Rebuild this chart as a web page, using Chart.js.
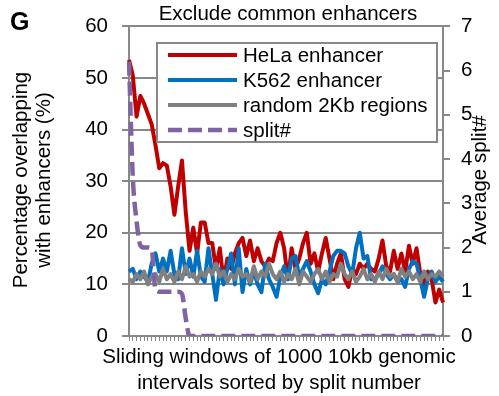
<!DOCTYPE html>
<html>
<head>
<meta charset="utf-8">
<script src="https://cdn.jsdelivr.net/npm/chart.js@4"></script>
<style>
  html, body { margin: 0; padding: 0; background: #fff; }
  canvas { display: block; }
</style>
</head>
<body>
<canvas id="myChart" width="499" height="396"></canvas>
<script>
// --- Data ---
const helaEnhancer = [
  53.5, 50.5, 42.5, 46.5, 45, 43, 41, 37, 32.5, 33.5, 33, 29,
  23.5, 29, 34, 24, 16.5, 21, 16, 22, 22, 18, 18, 13,
  17, 10.5, 15, 13, 16, 18, 19, 15.5, 18.5, 14.5, 17, 14.5,
  13.5, 15, 14.5, 18, 20, 17, 11, 17, 13, 15, 18, 20,
  14, 16, 12.5, 16, 19, 15, 11, 14, 16, 11, 9.5, 13,
  12, 14, 13, 14, 13, 12.5, 15, 18.5, 13.5, 12.5, 16.5, 13,
  16, 12.5, 17.5, 14, 17, 12, 9.5, 12.5, 11, 6.5, 9, 6.5
];
const k562Enhancer = [
  12.5, 13, 11, 12.5, 11.5, 10.5, 14, 16, 12.5, 15, 12.5, 16.5,
  12, 11, 17, 12, 15, 11.5, 16.5, 11.5, 10.5, 17, 12, 7,
  13, 10, 13, 16, 10, 17, 8.5, 13, 10, 12.5, 10, 8.5,
  14, 11, 9.5, 7.6, 11.5, 13.5, 11, 15, 15.5, 11.5, 13, 14.5,
  12.5, 10, 8.3, 11, 10, 12.5, 15.5, 16.5, 16.5, 16, 13.5, 12,
  17, 20, 15, 15.5, 11, 11, 12, 13.5, 12, 11, 12, 10.5,
  11, 9.5, 13, 14.5, 14, 11, 7.6, 11, 12.5, 10.5, 11.5, 10.5
];
const randomRegions = [
  11, 10.5, 12, 11, 12.5, 10, 11.5, 12, 10.5, 13, 11, 12,
  10.5, 12.5, 11, 13.5, 11.5, 12, 10.5, 12.5, 11.5, 13, 12, 14,
  11.5, 12.5, 10.5, 12, 11, 13, 11.5, 12, 10.5, 13.5, 11, 12.5,
  11.5, 14, 12, 11, 12.5, 10.5, 12, 11, 13, 10, 12.5, 11.5,
  10.5, 12, 13, 11, 12.5, 10.5, 12, 11.5, 14, 12, 11, 12.5,
  10.5, 11.5, 13, 11, 12, 10.5, 12.5, 11, 13, 11.5, 12, 10.5,
  13, 11.5, 12.5, 11, 12, 10.5, 12.5, 11, 12, 11.5, 12.5, 11.5
];
const splitNumber = [
  6.2, 3.6, 2.6, 2.05, 2, 2, 1.95, 1.05, 1, 1, 1, 1,
  1, 1, 0.95, 0.4, 0, 0, 0, 0, 0, 0, 0, 0,
  0, 0, 0, 0, 0, 0, 0, 0, 0, 0, 0, 0,
  0, 0, 0, 0, 0, 0, 0, 0, 0, 0, 0, 0,
  0, 0, 0, 0, 0, 0, 0, 0, 0, 0, 0, 0,
  0, 0, 0, 0, 0, 0, 0, 0, 0, 0, 0, 0,
  0, 0, 0, 0, 0, 0, 0, 0, 0, 0, 0, 0
];
const windows = helaEnhancer.map((_, i) => i + 1);

const seriesLabels = ['HeLa enhancer', 'K562 enhancer', 'random 2Kb regions', 'split#'];
const chartTitle = 'Exclude common enhancers';
const panelLetter = 'G';
const xTitle = ['Sliding windows of 1000 10kb genomic', 'intervals sorted by split number'];
const yTitle = ['Percentage overlapping', 'with enhancers (%)'];
const y1Title = 'Average split#';

document.addEventListener('DOMContentLoaded', () => {
  const canvas = document.getElementById('myChart');
  const ctx = canvas.getContext('2d');

  const FONT_FAMILY = 'Arial, "Liberation Sans", sans-serif';
  const FONT_SIZE = 20.5;
  const FONT = FONT_SIZE + 'px ' + FONT_FAMILY;
  const gridGray = '#888888';

  const overlayPlugin = {
    id: 'overlayText',
    afterDraw: (chart) => {
      const { ctx } = chart;
      ctx.save();
      ctx.fillStyle = '#000';

      ctx.font = 'bold 25px ' + FONT_FAMILY;
      ctx.textAlign = 'left';
      ctx.textBaseline = 'alphabetic';
      ctx.fillText(panelLetter, 10, 30);

      ctx.font = FONT;
      ctx.textAlign = 'center';
      ctx.fillText(chartTitle, 288, 19.5);
      xTitle.forEach((t, i) => ctx.fillText(t, 279, 363 + i * 26));

      // left axis title (two lines, rotated)
      ctx.save();
      ctx.translate(21, 180);
      ctx.rotate(-Math.PI / 2);
      ctx.textBaseline = 'middle';
      yTitle.forEach((t, i) => ctx.fillText(t, 0, i * 23));
      ctx.restore();

      // right axis title
      ctx.save();
      ctx.translate(480, 180);
      ctx.rotate(-Math.PI / 2);
      ctx.textBaseline = 'middle';
      ctx.fillText(y1Title, 0, 0);
      ctx.restore();

      // legend box
      const bx = 157, by = 43, bw = 280, bh = 99;
      ctx.fillStyle = '#fff';
      ctx.fillRect(bx, by, bw, bh);
      ctx.strokeStyle = gridGray;
      ctx.lineWidth = 2;
      ctx.strokeRect(bx, by, bw, bh);

      chart.data.datasets.forEach((ds, i) => {
        const y = 55 + i * 25;
        ctx.beginPath();
        ctx.strokeStyle = ds.borderColor;
        ctx.lineWidth = ds.borderWidth;
        ctx.setLineDash(ds.borderDash || []);
        ctx.moveTo(168, y);
        ctx.lineTo(237, y);
        ctx.stroke();
        ctx.setLineDash([]);
        ctx.fillStyle = '#000';
        ctx.textAlign = 'left';
        ctx.textBaseline = 'middle';
        ctx.fillText(ds.label, 243, y + 1);
      });
      ctx.restore();
    }
  };

  const myChart = new Chart(ctx, {
    type: 'line',
    data: {
      labels: windows,
      datasets: [
        {
          label: seriesLabels[0],
          data: helaEnhancer,
          borderColor: '#C00000',
          borderWidth: 4,
          yAxisID: 'y',
          order: 4
        },
        {
          label: seriesLabels[1],
          data: k562Enhancer,
          borderColor: '#0070C0',
          borderWidth: 4,
          yAxisID: 'y',
          order: 3
        },
        {
          label: seriesLabels[2],
          data: randomRegions,
          borderColor: '#808080',
          borderWidth: 4,
          yAxisID: 'y',
          order: 2
        },
        {
          label: seriesLabels[3],
          data: splitNumber,
          borderColor: '#8064A2',
          borderWidth: 4.5,
          borderDash: [14, 6],
          cubicInterpolationMode: 'monotone',
          yAxisID: 'y1',
          order: 1
        }
      ]
    },
    options: {
      responsive: false,
      animation: false,
      devicePixelRatio: 1,
      elements: {
        point: { radius: 0 },
        line: { tension: 0, borderJoinStyle: 'round' }
      },
      layout: {
        padding: { left: 0, right: 0, top: 25, bottom: 52 }
      },
      plugins: {
        legend: { display: false },
        tooltip: { enabled: false },
        title: { display: false }
      },
      scales: {
        x: {
          type: 'category',
          offset: false,
          afterFit: (scale) => { scale.height = 8; },
          grid: {
            drawOnChartArea: false,
            drawTicks: true,
            tickLength: 5,
            color: gridGray,
            lineWidth: 1
          },
          border: { display: true, color: gridGray, width: 2 },
          ticks: { display: false, autoSkip: false }
        },
        y: {
          position: 'left',
          min: 0,
          max: 60,
          afterFit: (scale) => { scale.width = 129; },
          grid: { color: gridGray, lineWidth: 2, tickLength: 7 },
          border: { display: true, color: gridGray, width: 2 },
          ticks: {
            stepSize: 10,
            padding: 14,
            color: '#000',
            font: { family: FONT_FAMILY, size: FONT_SIZE }
          }
        },
        y1: {
          position: 'right',
          min: 0,
          max: 7,
          afterFit: (scale) => { scale.width = 56; },
          grid: { drawOnChartArea: false, color: gridGray, lineWidth: 2, tickLength: 7 },
          border: { display: true, color: gridGray, width: 2 },
          ticks: {
            stepSize: 1,
            padding: 11,
            color: '#000',
            font: { family: FONT_FAMILY, size: FONT_SIZE }
          }
        }
      }
    },
    plugins: [overlayPlugin]
  });
});
</script>
</body>
</html>
